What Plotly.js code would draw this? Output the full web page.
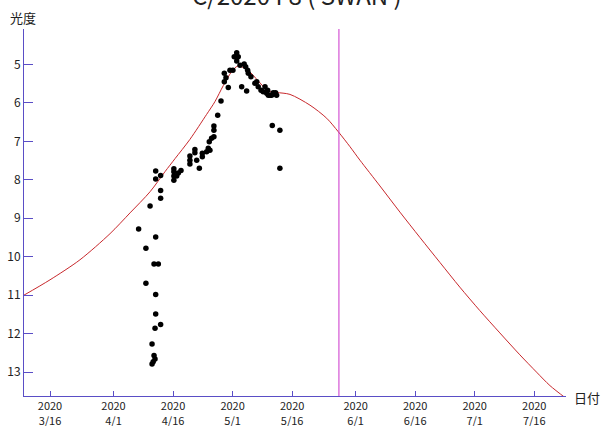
<!DOCTYPE html>
<html>
<head>
<meta charset="utf-8">
<script src="https://cdn.plot.ly/plotly-3.0.1.min.js"></script>
<style>html,body{margin:0;padding:0;background:#fff;}#chart{width:603px;height:426px;}</style>
</head>
<body>
<div id="chart"></div>
<script>
// ---- Data ----
const obsDates = [
 "2020-04-07 08:00","2020-04-09 04:00","2020-04-09 04:00","2020-04-10 05:00","2020-04-10 17:00","2020-04-10 17:00",
 "2020-04-11 00:00","2020-04-11 05:00","2020-04-11 05:00","2020-04-11 11:00","2020-04-11 11:00",
 "2020-04-11 15:00","2020-04-11 15:00","2020-04-11 15:00","2020-04-11 15:00","2020-04-11 15:00",
 "2020-04-12 07:00","2020-04-12 21:00","2020-04-12 21:00","2020-04-12 21:00","2020-04-12 21:00",
 "2020-04-16 05:00","2020-04-16 05:00","2020-04-16 05:00","2020-04-16 05:00","2020-04-16 22:00",
 "2020-04-17 08:00","2020-04-18 00:00","2020-04-20 06:00","2020-04-20 06:00","2020-04-20 06:00",
 "2020-04-21 12:00","2020-04-21 12:00","2020-04-21 23:00","2020-04-22 15:00","2020-04-23 09:00","2020-04-23 09:00",
 "2020-04-24 11:00","2020-04-24 21:00","2020-04-25 07:00","2020-04-25 03:00","2020-04-25 17:00",
 "2020-04-26 07:00","2020-04-26 07:00","2020-04-26 07:00","2020-04-27 06:00","2020-04-28 02:00",
 "2020-04-28 22:00","2020-04-28 22:00","2020-04-29 08:00","2020-04-29 22:00","2020-04-30 08:00",
 "2020-05-01 02:00","2020-05-01 10:00","2020-05-02 01:00","2020-05-02 01:00","2020-05-02 10:00",
 "2020-05-02 21:00","2020-05-03 07:00","2020-05-03 22:00","2020-05-04 07:00","2020-05-04 13:00",
 "2020-05-04 19:00","2020-05-04 23:00","2020-05-05 15:00","2020-05-06 15:00","2020-05-07 02:00",
 "2020-05-07 11:00","2020-05-08 04:00","2020-05-08 17:00","2020-05-09 04:00","2020-05-09 14:00",
 "2020-05-09 20:00","2020-05-10 00:00","2020-05-10 10:00","2020-05-10 20:00","2020-05-11 00:00",
 "2020-05-11 06:00","2020-05-11 20:00","2020-05-12 02:00","2020-05-12 22:00","2020-05-12 22:00"
];
const obsMags = [
 9.28, 9.78, 10.69, 8.68, 12.27, 12.79,
 12.73, 10.19, 12.57, 11.86, 12.66,
 7.77, 7.98, 9.49, 10.98, 11.49,
 10.19, 7.89, 8.28, 8.48, 11.76,
 7.71, 7.79, 7.90, 8.01, 7.90,
 7.82, 7.76, 7.38, 7.49, 7.59,
 7.21, 7.30, 7.49, 7.70, 7.31, 7.40,
 7.27, 7.18, 7.23, 7.01, 6.92,
 6.88, 6.71, 6.60, 6.32, 5.95,
 5.23, 5.45, 5.35, 5.60, 5.15,
 5.15, 4.80, 4.70, 4.91, 4.80,
 5.02, 5.58, 4.99, 5.06, 5.69,
 5.15, 5.23, 5.32, 5.49, 5.45,
 5.58, 5.67, 5.71, 5.58, 5.75,
 5.67, 5.80, 5.80, 5.80, 6.59,
 5.74, 5.74, 5.80, 6.71, 7.70
];

const curveDates = [
 "2020-03-09 10:00","2020-03-16 00:00","2020-03-23 13:00","2020-03-31 03:00","2020-04-05 04:00",
 "2020-04-10 05:00","2020-04-13 23:00","2020-04-16 12:00","2020-04-20 06:00","2020-04-24 11:00",
 "2020-04-26 13:00","2020-04-28 16:00","2020-04-30 18:00","2020-05-02 09:00","2020-05-04 23:00",
 "2020-05-07 09:00","2020-05-09 23:00","2020-05-12 02:00","2020-05-15 11:00","2020-05-20 12:00",
 "2020-05-24 17:00","2020-05-27 15:00","2020-05-30 14:00","2020-06-02 02:00","2020-06-07 03:00",
 "2020-06-12 04:00","2020-06-17 05:00","2020-06-22 06:00","2020-06-27 06:00","2020-07-02 07:00",
 "2020-07-07 08:00","2020-07-12 09:00","2020-07-16 14:00","2020-07-19 23:00","2020-07-24 00:00"
];
const curveMags = [
 11.0, 10.6, 10.08, 9.40, 8.86,
 8.31, 7.79, 7.45, 6.95, 6.30,
 5.97, 5.55, 5.19, 5.04, 5.16,
 5.42, 5.69, 5.73, 5.78, 6.06,
 6.40, 6.75, 7.14, 7.49, 8.16,
 8.84, 9.50, 10.15, 10.79, 11.40,
 11.98, 12.55, 13.00, 13.35, 13.68
];

const tickDates = ["2020-03-16","2020-04-01","2020-04-16","2020-05-01","2020-05-16","2020-06-01","2020-06-16","2020-07-01","2020-07-16"];
const tickLabels = ["2020<br>3/16","2020<br>4/1","2020<br>4/16","2020<br>5/1","2020<br>5/16","2020<br>6/1","2020<br>6/16","2020<br>7/1","2020<br>7/16"];
const magTicks = [5, 6, 7, 8, 9, 10, 11, 12, 13];
const todayDate = "2020-05-27 19:00";
const chartTitle = "C/2020 F8 ( SWAN )";
const yLabel = "光度";
const xLabel = "日付";

// ---- Styling ----
const axisColor = "#5a4ec6";
const font = "Noto Sans CJK JP, Noto Sans, sans-serif";

const traces = [
  {
    x: curveDates, y: curveMags, type: "scatter", mode: "lines",
    line: {color: "#c8282c", width: 1, shape: "spline", smoothing: 0.8},
    hoverinfo: "skip"
  },
  {
    x: obsDates, y: obsMags, type: "scatter", mode: "markers",
    marker: {color: "#000", size: 5.5, line: {width: 0}},
    cliponaxis: false
  }
];

const layout = {
  width: 603, height: 426,
  margin: {l: 24, r: 37, t: 29, b: 30},
  paper_bgcolor: "#fff", plot_bgcolor: "#fff",
  showlegend: false,
  font: {family: font, size: 12, color: "#222"},
  xaxis: {
    type: "date",
    range: ["2020-03-09 10:48", "2020-07-24 00:00"],
    tickmode: "array", tickvals: tickDates, ticktext: tickLabels,
    ticks: "inside", ticklen: 5, tickcolor: axisColor, tickwidth: 1,
    showline: true, linecolor: axisColor, linewidth: 1,
    showgrid: false, zeroline: false,
    tickfont: {family: font, size: 11, color: "#222"}
  },
  yaxis: {
    range: [13.62, 4.08],
    tickmode: "array", tickvals: magTicks,
    ticks: "inside", ticklen: 9, tickcolor: axisColor, tickwidth: 1,
    showline: true, linecolor: axisColor, linewidth: 1,
    showgrid: false, zeroline: false,
    tickfont: {family: font, size: 12, color: "#222"}
  },
  shapes: [{
    type: "line", xref: "x", yref: "paper",
    x0: todayDate, x1: todayDate, y0: 0, y1: 1,
    line: {color: "#cc33cc", width: 1}
  }],
  annotations: [
    {text: chartTitle, xref: "paper", yref: "paper", x: 0.503, y: 1.0953,
     xanchor: "center", yanchor: "middle", showarrow: false,
     font: {family: font, size: 24, color: "#222"}},
    {text: yLabel, xref: "paper", yref: "paper", x: -0.002, y: 1.03,
     xanchor: "center", yanchor: "middle", showarrow: false,
     font: {family: font, size: 13, color: "#222"}},
    {text: xLabel, xref: "paper", yref: "paper", x: 1.0387, y: -0.003,
     xanchor: "center", yanchor: "middle", showarrow: false,
     font: {family: font, size: 13, color: "#222"}}
  ]
};

Plotly.newPlot("chart", traces, layout, {staticPlot: true, displayModeBar: false});
</script>
</body>
</html>
